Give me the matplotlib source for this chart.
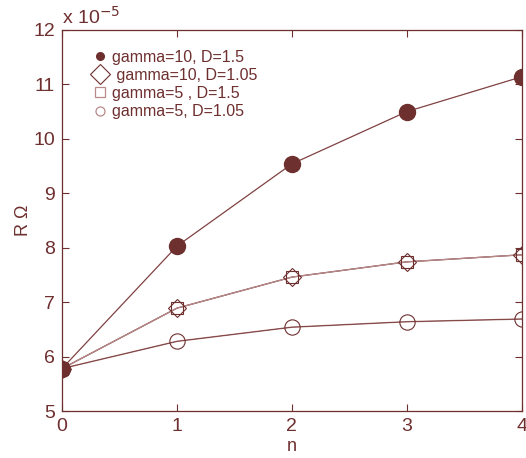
import numpy as np
import matplotlib.pyplot as plt
from matplotlib.lines import Line2D

plt.rcParams['font.family'] = ['Liberation Sans', 'DejaVu Sans']

n = [0, 1, 2, 3, 4]
# values in units of 1e-5
g10_d15 = [5.78, 8.03, 9.54, 10.50, 11.14]
g10_d105 = [5.78, 6.89, 7.46, 7.74, 7.87]
g5_d15 = [5.78, 6.89, 7.46, 7.74, 7.87]
g5_d105 = [5.78, 6.28, 6.54, 6.64, 6.69]
labels = ['gamma=10, D=1.5', ' gamma=10, D=1.05', 'gamma=5 , D=1.5', 'gamma=5, D=1.05']

c = '#6e2f2f'
light = '#b88a8a'

fig = plt.figure(figsize=(5.26, 4.58), dpi=100)
ax = fig.add_axes([0.118, 0.1026, 0.874, 0.832])

# lines
ax.plot(n, g10_d15, color=light, lw=1.0, zorder=1)
ax.plot(n, g10_d15, color=c, lw=0.5, zorder=1)
ax.plot(n, g10_d105, color=c, lw=0.9, zorder=1)
ax.plot(n, g5_d15, color=light, lw=0.9, zorder=1)
ax.plot(n, g5_d105, color=light, lw=1.1, zorder=1)
ax.plot(n, g5_d105, color=c, lw=0.5, zorder=1)

# markers
ax.plot(n, g5_d105, 'o', ms=11, mfc='none', mec=c, mew=0.8, ls='none', zorder=2)
ax.plot(n, g5_d15, 's', ms=9, mfc='none', mec=c, mew=0.8, ls='none', zorder=2)
ax.plot(n, g10_d105, 'D', ms=9, mfc='none', mec=c, mew=0.8, ls='none', zorder=2)
ax.plot(n, g10_d15, 'o', ms=11.5, mfc=c, mec=c, ls='none', zorder=3)

handles = [
    Line2D([], [], marker='o', ms=5.5, mfc=c, mec=c, ls='none'),
    Line2D([], [], marker='D', ms=10, mfc='none', mec=c, mew=0.8, ls='none'),
    Line2D([], [], marker='s', ms=6.5, mfc='none', mec=light, mew=0.9, ls='none'),
    Line2D([], [], marker='o', ms=6.5, mfc='none', mec=light, mew=0.9, ls='none'),
]
leg = ax.legend(handles, labels, loc='upper left', frameon=False, fontsize=11.5,
                handletextpad=0.15, labelspacing=0.2, borderaxespad=0.0,
                bbox_to_anchor=(0.045, 0.965), handlelength=1.3)
for t in leg.get_texts():
    t.set_color(c)

ax.set_xlim(0, 4)
ax.set_ylim(5, 12)
ax.set_xticks(n)
ax.set_yticks(range(5, 13))
ax.tick_params(direction='in', colors=c, labelsize=14, length=5, top=True, right=True,
               labeltop=False, labelright=False)
ax.tick_params(axis='y', pad=5)
ax.tick_params(axis='x', pad=5)
for s in ax.spines.values():
    s.set_color(c)
    s.set_linewidth(0.9)

ax.set_xlabel('n', color=c, fontsize=13)
ax.xaxis.set_label_coords(0.5, -0.07)
ax.set_ylabel('R Ω', color=c, fontsize=13)
ax.yaxis.set_label_coords(-0.065, 0.5)
ax.text(0.0, 1.005, 'x 10$^{-5}$', transform=ax.transAxes, color=c, fontsize=14,
        ha='left', va='bottom')

fig.savefig('out.png', dpi=100)
